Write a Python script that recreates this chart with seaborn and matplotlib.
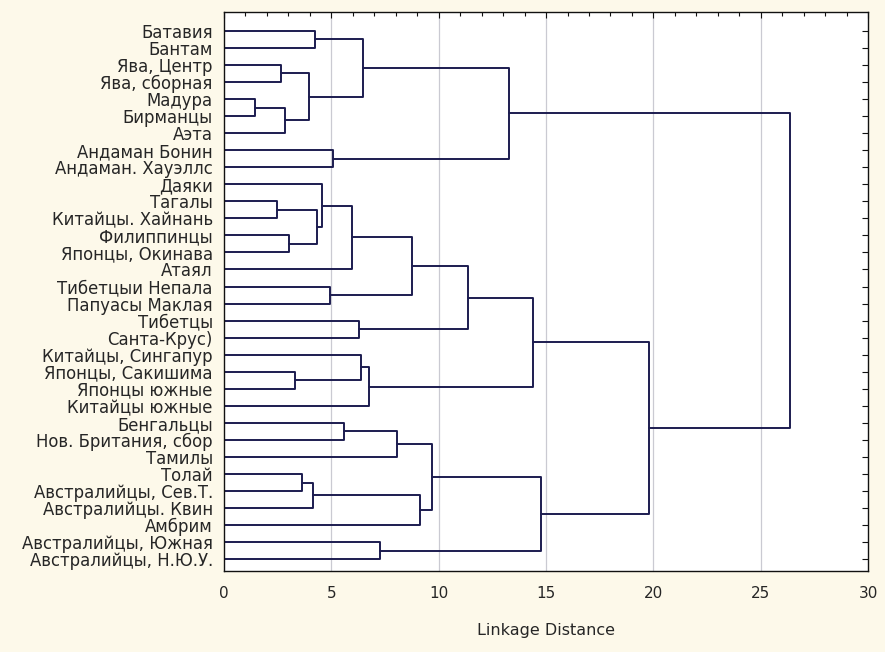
import numpy as np
import pandas as pd
import matplotlib
matplotlib.use("Agg")
import matplotlib.pyplot as plt
import seaborn as sns

# leaf labels, top to bottom
leaves = [
    "Батавия", "Бантам", "Ява, Центр", "Ява, сборная", "Мадура", "Бирманцы",
    "Аэта", "Андаман Бонин", "Андаман. Хауэллс", "Даяки", "Тагалы",
    "Китайцы. Хайнань", "Филиппинцы", "Японцы, Окинава", "Атаял",
    "Тибетцыи Непала", "Папуасы Маклая", "Тибетцы", "Санта-Крус)",
    "Китайцы, Сингапур", "Японцы, Сакишима", "Японцы южные", "Китайцы южные",
    "Бенгальцы", "Нов. Британия, сбор", "Тамилы", "Толай",
    "Австралийцы, Сев.Т.", "Австралийцы. Квин", "Амбрим",
    "Австралийцы, Южная", "Австралийцы, Н.Ю.У.",
]

# merges: new cluster ids start at len(leaves)
merge_a = [4, 32, 2, 34, 0, 36, 7, 37, 10, 12, 40, 9, 43, 15, 44, 17, 46,
           20, 19, 50, 48, 23, 53, 26, 55, 56, 54, 30, 58, 52, 39]
merge_b = [5, 6, 3, 33, 1, 35, 8, 38, 11, 13, 41, 42, 14, 16, 45, 18, 47,
           21, 49, 22, 51, 24, 25, 27, 28, 29, 57, 31, 59, 60, 61]
merge_h = [1.45, 2.84, 2.65, 3.97, 4.24, 6.5, 5.07, 13.27, 2.48, 3.04, 4.32,
           4.55, 5.95, 4.93, 8.77, 6.3, 11.37, 3.31, 6.38, 6.77, 14.38, 5.59,
           8.07, 3.62, 4.15, 9.13, 9.7, 7.27, 14.76, 19.8, 26.36]

n = len(leaves)
pos = {i: float(i) for i in range(n)}
height = {i: 0.0 for i in range(n)}
rows = []
for k, (a, b, h) in enumerate(zip(merge_a, merge_b, merge_h)):
    cid = n + k
    pts = [(height[a], pos[a]), (h, pos[a]), (h, pos[b]), (height[b], pos[b])]
    for j, (x, y) in enumerate(pts):
        rows.append({"link": k, "step": j, "dist": x, "leaf": y})
    pos[cid] = (pos[a] + pos[b]) / 2
    height[cid] = h
links = pd.DataFrame(rows)

sns.set_theme(style="white")
plt.rcParams["font.family"] = ["DejaVu Sans"]

fig = plt.figure(figsize=(8.85, 6.52), dpi=100, facecolor="#fdf9ea")
ax = fig.add_axes([0.253, 0.124, 0.728, 0.858])
ax.set_facecolor("white")

for g in range(5, 30, 5):
    ax.axvline(g, color="#cacad2", lw=0.9, zorder=0)

sns.lineplot(data=links, x="dist", y="leaf", units="link", estimator=None,
             sort=False, color="#1c1c50", lw=1.4, ax=ax, legend=False)

ax.set_xlim(0, 30)
ax.set_ylim(31.7, -1.12)
ax.set_xticks(np.arange(0, 31, 5))
ax.set_xticks(np.arange(0, 31, 1), minor=True)
ax.set_yticks(range(n))
ax.set_yticklabels(leaves, fontsize=11.9, color="#262626")
ax.tick_params(axis="x", labelsize=11, colors="#262626", pad=10.5)
ax.tick_params(axis="both", which="both", direction="in", color="#111111",
               top=True, right=True, length=4, width=0.8)
ax.tick_params(axis="y", pad=8)
ax.tick_params(axis="x", which="minor", bottom=False, length=3)
ax.set_xlabel("Linkage Distance", fontsize=11.5, color="#262626", labelpad=16)
ax.set_ylabel("")
for s in ax.spines.values():
    s.set_color("#111111")
    s.set_linewidth(1.0)

fig.savefig("out.png", dpi=100, facecolor=fig.get_facecolor())
